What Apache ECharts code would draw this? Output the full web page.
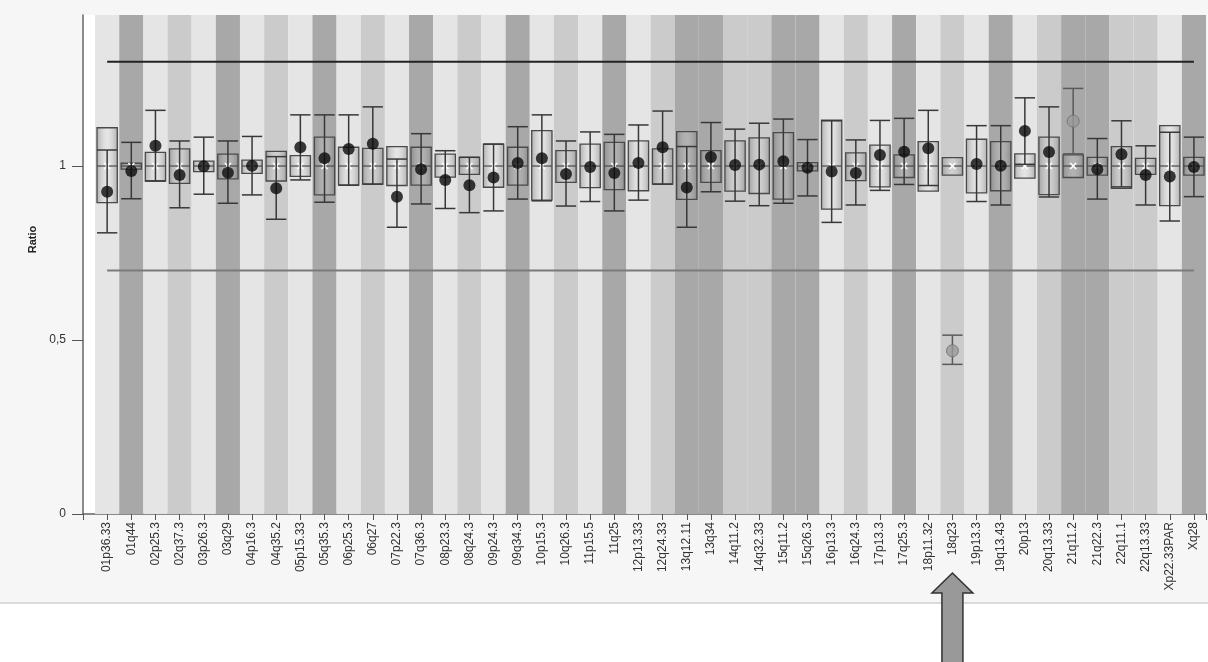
<!DOCTYPE html>
<html>
<head>
<meta charset="utf-8">
<script src="https://cdn.jsdelivr.net/npm/echarts@6.0.0/dist/echarts.min.js"></script>
<style>
html,body{margin:0;padding:0;background:#fff;}
#chart{width:1208px;height:662px;}
</style>
</head>
<body>
<div id="chart"></div>
<script>
// ---- data ----
const categories = ['01p36.33','01q44','02p25.3','02q37.3','03p26.3','03q29','04p16.3','04q35.2','05p15.33','05q35.3',
  '06p25.3','06q27','07p22.3','07q36.3','08p23.3','08q24.3','09p24.3','09q34.3','10p15.3','10q26.3',
  '11p15.5','11q25','12p13.33','12q24.33','13q12.11','13q34','14q11.2','14q32.33','15q11.2','15q26.3',
  '16p13.3','16q24.3','17p13.3','17q25.3','18p11.32','18q23','19p13.3','19q13.43','20p13','20q13.33',
  '21q11.2','21q22.3','22q11.1','22q13.33','Xp22.33PAR','Xq28'];
// stripe tone per category: L light, M medium, D dark
const stripeTone = ['L','D','L','M','L','D','L','M','L','D',
  'L','M','L','D','L','M','L','D','L','M',
  'L','D','L','M','D','D','M','M','D','D',
  'L','M','L','D','L','M','L','D','L','M',
  'D','D','M','M','L','D'];
// reference distribution box (lower / upper / median)
const boxLow = [0.895,0.991,0.957,0.950,0.984,0.963,0.979,0.957,0.970,0.917,
  0.945,0.948,0.944,0.945,0.968,0.976,0.939,0.945,0.902,0.953,
  0.938,0.932,0.929,0.948,0.904,0.953,0.928,0.921,0.905,0.986,
  0.876,0.958,0.940,0.967,0.928,0.974,0.923,0.929,0.965,0.918,
  0.967,0.974,0.936,0.976,0.886,0.974];
const boxHigh = [1.110,1.008,1.039,1.049,1.014,1.034,1.017,1.042,1.030,1.083,
  1.054,1.051,1.056,1.054,1.034,1.025,1.063,1.054,1.102,1.044,
  1.063,1.068,1.072,1.049,1.099,1.044,1.072,1.081,1.096,1.010,
  1.132,1.038,1.060,1.032,1.070,1.024,1.077,1.070,1.035,1.083,
  1.032,1.025,1.056,1.022,1.116,1.025];
const boxMedian = [1.0,1.0,1.0,1.0,1.0,1.0,1.0,1.0,1.0,1.0,
  1.0,1.0,1.0,1.0,1.0,1.0,1.0,1.0,1.0,1.0,
  1.0,1.0,1.0,1.0,1.0,1.0,1.0,1.0,1.0,1.0,
  1.0,1.0,1.0,1.0,1.0,1.0,1.0,1.0,1.0,1.0,
  1.0,1.0,1.0,1.0,1.0,1.0];
// sample ratio with its error bar
const sampleRatio = [0.926,0.986,1.058,0.974,0.999,0.981,1.001,0.936,1.054,1.022,
  1.049,1.064,0.912,0.991,0.960,0.945,0.967,1.009,1.022,0.977,
  0.997,0.980,1.009,1.054,0.938,1.026,1.003,1.004,1.014,0.995,
  0.984,0.980,1.032,1.041,1.051,0.469,1.006,1.001,1.101,1.040,
  1.129,0.991,1.034,0.974,0.970,0.997];
const errLow = [0.808,0.906,0.957,0.880,0.919,0.893,0.917,0.847,0.960,0.896,
  0.945,0.948,0.824,0.891,0.878,0.866,0.871,0.905,0.900,0.885,
  0.898,0.871,0.902,0.948,0.824,0.926,0.899,0.886,0.893,0.914,
  0.838,0.888,0.930,0.947,0.944,0.430,0.898,0.888,1.005,0.911,
  1.035,0.905,0.940,0.888,0.842,0.912];
const errHigh = [1.046,1.068,1.160,1.072,1.083,1.072,1.085,1.027,1.147,1.147,
  1.147,1.170,1.020,1.093,1.044,1.025,1.063,1.113,1.147,1.072,
  1.098,1.091,1.118,1.158,1.056,1.125,1.106,1.123,1.135,1.076,
  1.130,1.075,1.131,1.137,1.160,0.514,1.116,1.116,1.196,1.170,
  1.223,1.079,1.130,1.058,1.097,1.083];
const flagged = ['18q23','21q11.2'];   // drawn in grey
const thresholds = [1.3, 0.7];
const yTicks = [0, 0.5, 1];
const arrowTarget = '18q23';

// ---- chart ----
const Y_MAX = 1.434;
const toneColor = {L:'#e5e5e5', M:'#cbcbcb', D:'#a8a8a8'};
const chart = echarts.init(document.getElementById('chart'), null, {renderer:'canvas'});

const idx = categories.map((c,i)=>i);
const boxData = idx.map(i=>[i, boxLow[i], boxHigh[i], boxMedian[i]]);
const errData = idx.map(i=>[i, errLow[i], errHigh[i]]);
const dotsNormal = idx.filter(i=>flagged.indexOf(categories[i])<0).map(i=>[i, sampleRatio[i]]);
const dotsFlag = idx.filter(i=>flagged.indexOf(categories[i])>=0).map(i=>[i, sampleRatio[i]]);

const boxFill = new echarts.graphic.LinearGradient(0,0,1,0,[
  {offset:0, color:'rgba(95,95,95,0.42)'},
  {offset:0.5, color:'rgba(235,235,235,0.15)'},
  {offset:1, color:'rgba(95,95,95,0.42)'}
]);

function renderStripe(params, api){
  const i = api.value(0);
  const p1 = api.coord([i-0.5, Y_MAX]);
  const p2 = api.coord([i+0.5, 0]);
  return {type:'rect', shape:{x:p1[0], y:p1[1], width:p2[0]-p1[0], height:p2[1]-p1[1]},
    style:{fill: toneColor[stripeTone[params.dataIndex]]}};
}
function renderBox(params, api){
  const i = api.value(0);
  const w = api.size([1,0])[0]*0.84;
  const pLo = api.coord([i, api.value(1)]);
  const pHi = api.coord([i, api.value(2)]);
  const pMd = api.coord([i, api.value(3)]);
  const x0 = pLo[0]-w/2;
  const c = 3;
  return {type:'group', children:[
    {type:'rect', shape:{x:x0, y:pHi[1], width:w, height:pLo[1]-pHi[1]},
      style:{fill:boxFill, stroke:'#4a4a4a', lineWidth:1.3}},
    {type:'line', shape:{x1:x0, y1:pMd[1], x2:x0+w, y2:pMd[1]}, style:{stroke:'#4a4a4a', lineWidth:1.2}},
    {type:'line', shape:{x1:pMd[0]-c, y1:pMd[1]-c, x2:pMd[0]+c, y2:pMd[1]+c}, style:{stroke:'#ffffff', lineWidth:1.6}},
    {type:'line', shape:{x1:pMd[0]-c, y1:pMd[1]+c, x2:pMd[0]+c, y2:pMd[1]-c}, style:{stroke:'#ffffff', lineWidth:1.6}}
  ]};
}
function renderErr(params, api){
  const i = api.value(0);
  const w = api.size([1,0])[0]*0.84;
  const pLo = api.coord([i, api.value(1)]);
  const pHi = api.coord([i, api.value(2)]);
  const grey = flagged.indexOf(categories[i])>=0;
  const col = grey ? '#5a5a5a' : '#383838';
  return {type:'group', children:[
    {type:'line', shape:{x1:pLo[0], y1:pLo[1], x2:pHi[0], y2:pHi[1]}, style:{stroke:col, lineWidth:1.5}},
    {type:'line', shape:{x1:pLo[0]-w/2, y1:pLo[1], x2:pLo[0]+w/2, y2:pLo[1]}, style:{stroke:col, lineWidth:1.5}},
    {type:'line', shape:{x1:pHi[0]-w/2, y1:pHi[1], x2:pHi[0]+w/2, y2:pHi[1]}, style:{stroke:col, lineWidth:1.5}}
  ]};
}

const option = {
  animation:false,
  backgroundColor:'transparent',
  textStyle:{fontFamily:'Liberation Sans, Arial, sans-serif'},
  grid:{left:83, right:2, top:15, bottom:148, show:true, backgroundColor:'#ffffff', borderWidth:0, containLabel:false},
  xAxis:{
    type:'value', min:-1, max:categories.length-0.5, interval:1,
    axisLine:{show:true, onZero:false, lineStyle:{color:'#666', width:1.5}},
    axisTick:{show:true, length:6, lineStyle:{color:'#555'}},
    splitLine:{show:false},
    axisLabel:{rotate:90, fontSize:12, color:'#333', margin:8,
      showMinLabel:true, showMaxLabel:true,
      formatter:v=> (Number.isInteger(v) && v>=0 && categories[v]) ? categories[v] : ''}
  },
  yAxis:{
    type:'value', min:0, max:Y_MAX, interval:0.5,
    name:'Ratio', nameLocation:'middle', nameGap:41, nameRotate:90,
    nameTextStyle:{fontWeight:'bold', fontSize:11, color:'#222', padding:[0,0,0,50]},
    axisLine:{show:true, onZero:false, lineStyle:{color:'#666', width:1.5}},
    axisTick:{show:true, length:11, lineStyle:{color:'#555', width:1}, customValues:yTicks},
    splitLine:{show:false},
    axisLabel:{fontSize:12, color:'#333', margin:17, customValues:yTicks,
      formatter:v=>String(v).replace('.',',')}
  },
  series:[
    {type:'custom', name:'stripes', renderItem:renderStripe, data:idx.map(i=>[i]), encode:{x:0}, z:1, silent:true},
    {type:'custom', name:'box', renderItem:renderBox, data:boxData, encode:{x:0, y:[1,2]}, z:3},
    {type:'line', name:'upper', data:[[0,thresholds[0]],[categories.length-1,thresholds[0]]], symbol:'none',
      lineStyle:{color:'#222', width:2}, z:4},
    {type:'line', name:'lower', data:[[0,thresholds[1]],[categories.length-1,thresholds[1]]], symbol:'none',
      lineStyle:{color:'#7a7a7a', width:2}, z:4},
    {type:'custom', name:'err', renderItem:renderErr, data:errData, encode:{x:0, y:[1,2]}, z:5},
    {type:'scatter', name:'sample', data:dotsNormal, symbolSize:12, itemStyle:{color:'#0a0a0a'}, z:6},
    {type:'scatter', name:'flagged', data:dotsFlag, symbolSize:12,
      itemStyle:{color:'#9a9a9a', borderColor:'#707070', borderWidth:1}, z:6}
  ]
};
chart.setOption(option);

// decorative page background and the arrow pointing at the flagged region
const ax = chart.convertToPixel({xAxisIndex:0}, categories.indexOf(arrowTarget));
const tipY = 573, headY = 593, headHalf = 20.5, shaftHalf = 10.5, bottomY = 670;
chart.setOption({
  graphic:[
    {type:'rect', z:-10, silent:true, shape:{x:0, y:0, width:1208, height:603}, style:{fill:'#f6f6f6'}},
    {type:'line', z:-9, silent:true, shape:{x1:0, y1:603, x2:1208, y2:603}, style:{stroke:'#cfcfcf', lineWidth:1.5}},
    {type:'polygon', z:100, silent:true,
      shape:{points:[[ax,tipY],[ax+headHalf,headY],[ax+shaftHalf,headY],[ax+shaftHalf,bottomY],
        [ax-shaftHalf,bottomY],[ax-shaftHalf,headY],[ax-headHalf,headY]]},
      style:{fill:'#999999', stroke:'#333333', lineWidth:1.5}}
  ]
});
</script>
</body>
</html>
